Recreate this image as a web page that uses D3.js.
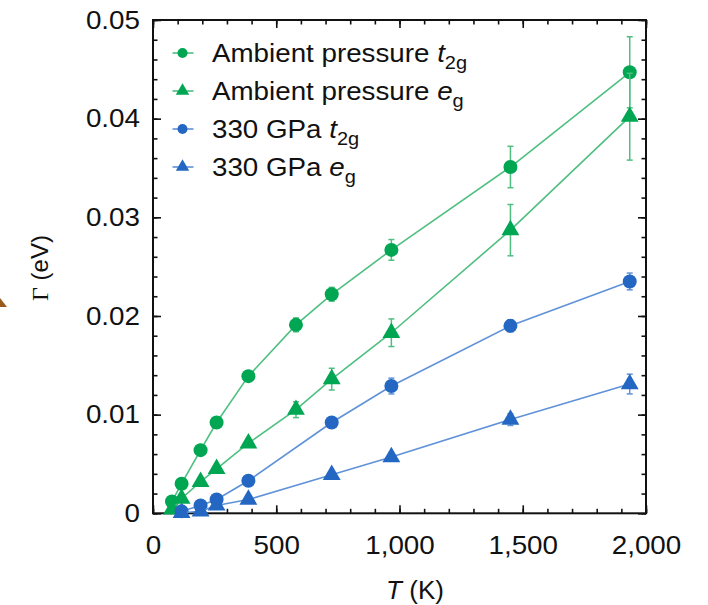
<!DOCTYPE html>
<html>
<head>
<meta charset="utf-8">
<script src="https://cdn.jsdelivr.net/npm/d3@7"></script>
<style>
  body { margin: 0; background: #fff; }
  svg { display: block; font-family: "Liberation Sans", Arial, Helvetica, sans-serif; }
</style>
</head>
<body>
<svg id="chart" width="708" height="605"></svg>
<script>
// Temperatures (K) of the ambient-pressure runs and of the 330 GPa runs
const temperatures = [77, 116, 193, 258, 387, 580, 725, 967, 1450, 1934];
const gpaTemperatures = [116, 193, 258, 387, 725, 967, 1450, 1934];

// Scattering rate Γ (eV) and its uncertainty
const ambientT2g    = [0.0012, 0.0030, 0.0064, 0.0092, 0.0139, 0.0191, 0.0222, 0.0267, 0.0351, 0.0447];
const ambientT2gErr = [0.0002, 0.0002, 0.0003, 0.0003, 0.0004, 0.0007, 0.0007, 0.00105, 0.0021, 0.0036];
const ambientEg     = [0.0004, 0.0015, 0.0032, 0.0045, 0.0071, 0.0105, 0.0136, 0.0183, 0.0287, 0.0402];
const ambientEgErr  = [0.0001, 0.0002, 0.0003, 0.0003, 0.0004, 0.0008, 0.0011, 0.0014, 0.0026, 0.0044];
const gpaT2g        = [0.0002, 0.0008, 0.0014, 0.0033, 0.0092, 0.0129, 0.0190, 0.0235];
const gpaT2gErr     = [0.0001, 0.0001, 0.0002, 0.0002, 0.0005, 0.0008, 0.0006, 0.00085];
const gpaEg         = [0.00005, 0.0002, 0.0008, 0.0014, 0.0039, 0.0057, 0.0095, 0.0131];
const gpaEgErr      = [0.0001, 0.0001, 0.0001, 0.0002, 0.0003, 0.0004, 0.0006, 0.0010];

// Axis ticks
const xTicks = [0, 500, 1000, 1500, 2000];
const xTickLabels = ["0", "500", "1,000", "1,500", "2,000"];
const yTicks = [0, 0.01, 0.02, 0.03, 0.04, 0.05];
const yTickLabels = ["0", "0.01", "0.02", "0.03", "0.04", "0.05"];

const GREEN = "#00a651", GREEN_LIGHT = "#4fbf80";
const BLUE = "#2467c3", BLUE_LIGHT = "#5f92d8";

const series = [
  { label: "Ambient pressure ", orbital: "t", sub: "2g", temps: temperatures, values: ambientT2g, errors: ambientT2gErr, shape: d3.symbolCircle, color: GREEN, light: GREEN_LIGHT },
  { label: "Ambient pressure ", orbital: "e", sub: "g", temps: temperatures, values: ambientEg, errors: ambientEgErr, shape: d3.symbolTriangle, color: GREEN, light: GREEN_LIGHT },
  { label: "330 GPa ", orbital: "t", sub: "2g", temps: gpaTemperatures, values: gpaT2g, errors: gpaT2gErr, shape: d3.symbolCircle, color: BLUE, light: BLUE_LIGHT },
  { label: "330 GPa ", orbital: "e", sub: "g", temps: gpaTemperatures, values: gpaEg, errors: gpaEgErr, shape: d3.symbolTriangle, color: BLUE, light: BLUE_LIGHT }
];

const svg = d3.select("#chart");
const plotLeft = 153, plotRight = 646, plotTop = 20, plotBottom = 513.3;
const x = d3.scaleLinear().domain([0, 2000]).range([plotLeft, plotRight]);
const y = d3.scaleLinear().domain([0, 0.05]).range([plotBottom, plotTop]);

const TICK_FONT = 26, TICK_SX = 1.07;

// Minor and major ticks on all four sides, pointing inward
const xMinor = d3.range(0, 2001, 100);
const yMinor = d3.range(0, 0.0501, 0.002);
function tickAxis(axisFn, scale, values, len, transform) {
  const g = svg.append("g").attr("transform", transform)
    .call(axisFn(scale).tickValues(values).tickSizeInner(-len).tickSizeOuter(0).tickFormat(""));
  g.select(".domain").remove();
  g.selectAll("line").attr("stroke", "#111").attr("stroke-width", 1.6);
  return g;
}
tickAxis(d3.axisBottom, x, xMinor, 4.5, `translate(0,${plotBottom})`);
tickAxis(d3.axisTop, x, xMinor, 4.5, `translate(0,${plotTop})`);
tickAxis(d3.axisLeft, y, yMinor, 4.5, `translate(${plotLeft},0)`);
tickAxis(d3.axisRight, y, yMinor, 4.5, `translate(${plotRight},0)`);
tickAxis(d3.axisTop, x, xTicks, 8, `translate(0,${plotTop})`);
tickAxis(d3.axisRight, y, yTicks, 8, `translate(${plotRight},0)`);

// Labelled bottom axis
const gx = svg.append("g").attr("transform", `translate(0,${plotBottom})`)
  .call(d3.axisBottom(x).tickValues(xTicks).tickSizeInner(-8).tickSizeOuter(0)
    .tickPadding(22).tickFormat((d, i) => xTickLabels[i]));
gx.select(".domain").remove();
gx.selectAll("line").attr("stroke", "#111").attr("stroke-width", 1.6);
gx.selectAll("text").attr("font-size", TICK_FONT).attr("fill", "#111")
  .attr("font-family", "'Liberation Sans', Arial, sans-serif")
  .attr("transform", `scale(${TICK_SX},1)`);

// Labelled left axis
const gy = svg.append("g").attr("transform", `translate(${plotLeft},0)`)
  .call(d3.axisLeft(y).tickValues(yTicks).tickSizeInner(-8).tickSizeOuter(0)
    .tickPadding(13).tickFormat((d, i) => yTickLabels[i]));
gy.select(".domain").remove();
gy.selectAll("line").attr("stroke", "#111").attr("stroke-width", 1.6);
gy.selectAll("text").attr("font-size", TICK_FONT).attr("fill", "#111")
  .attr("font-family", "'Liberation Sans', Arial, sans-serif")
  .attr("x", -13 / TICK_SX)
  .attr("transform", `scale(${TICK_SX},1)`);

// Plot frame
svg.append("rect")
  .attr("x", plotLeft).attr("y", plotTop)
  .attr("width", plotRight - plotLeft).attr("height", plotBottom - plotTop)
  .attr("fill", "none").attr("stroke", "#111").attr("stroke-width", 2);

// Data: lines, error bars, markers
const line = d3.line().x(d => x(d.t)).y(d => y(d.v));
series.forEach(s => {
  const pts = s.temps.map((t, i) => ({ t, v: s.values[i], e: s.errors[i] }));
  const g = svg.append("g");
  g.append("path").datum(pts).attr("d", line)
    .attr("fill", "none").attr("stroke", s.light).attr("stroke-width", 1.6);
  const eb = g.selectAll(".eb").data(pts).join("g").attr("stroke", s.light).attr("stroke-width", 1.5);
  eb.append("line").attr("x1", d => x(d.t)).attr("x2", d => x(d.t))
    .attr("y1", d => y(d.v - d.e)).attr("y2", d => y(d.v + d.e));
  eb.append("line").attr("x1", d => x(d.t) - 3).attr("x2", d => x(d.t) + 3)
    .attr("y1", d => y(d.v - d.e)).attr("y2", d => y(d.v - d.e));
  eb.append("line").attr("x1", d => x(d.t) - 3).attr("x2", d => x(d.t) + 3)
    .attr("y1", d => y(d.v + d.e)).attr("y2", d => y(d.v + d.e));
  const size = s.shape === d3.symbolCircle ? Math.PI * 49 : 138;
  g.selectAll(".mk").data(pts).join("path")
    .attr("transform", d => `translate(${x(d.t)},${y(d.v)})`)
    .attr("d", d3.symbol(s.shape, size))
    .attr("fill", s.color);
});

// Legend
const LEG_FONT = 25, LEG_SX = 1.11;
const legendRows = [53, 91, 129, 167];
series.forEach((s, i) => {
  const cy = legendRows[i];
  const g = svg.append("g");
  g.append("line").attr("x1", 172.5).attr("x2", 193.5).attr("y1", cy).attr("y2", cy)
    .attr("stroke", s.light).attr("stroke-width", 1.6);
  const size = s.shape === d3.symbolCircle ? Math.PI * 25 : 78;
  g.append("path").attr("transform", `translate(182.5,${cy})`)
    .attr("d", d3.symbol(s.shape, size)).attr("fill", s.color);
  const t = g.append("text")
    .attr("transform", `translate(212,${cy + 8.8}) scale(${LEG_SX},1)`)
    .attr("font-size", LEG_FONT).attr("fill", "#111");
  t.append("tspan").text(s.label);
  t.append("tspan").attr("font-style", "italic").text(s.orbital);
  t.append("tspan").attr("font-size", 18).attr("dy", 7).text(s.sub);
});

// Axis titles
const xt = svg.append("text").attr("x", 415).attr("y", 599)
  .attr("text-anchor", "middle").attr("font-size", 26).attr("fill", "#111");
xt.append("tspan").attr("font-style", "italic").text("T");
xt.append("tspan").text(" (K)");

const yt = svg.append("text")
  .attr("transform", "translate(48,268) rotate(-90)")
  .attr("text-anchor", "middle").attr("font-size", 24).attr("fill", "#111");
yt.append("tspan").attr("font-family", "'Liberation Serif', 'Times New Roman', serif").text("Γ");
yt.append("tspan").text(" (eV)");

// Arrow tip entering from the left margin
svg.append("path").attr("d", "M0,298 L7,307 L0,307 Z").attr("fill", "#9a5a1c");
</script>
</body>
</html>
